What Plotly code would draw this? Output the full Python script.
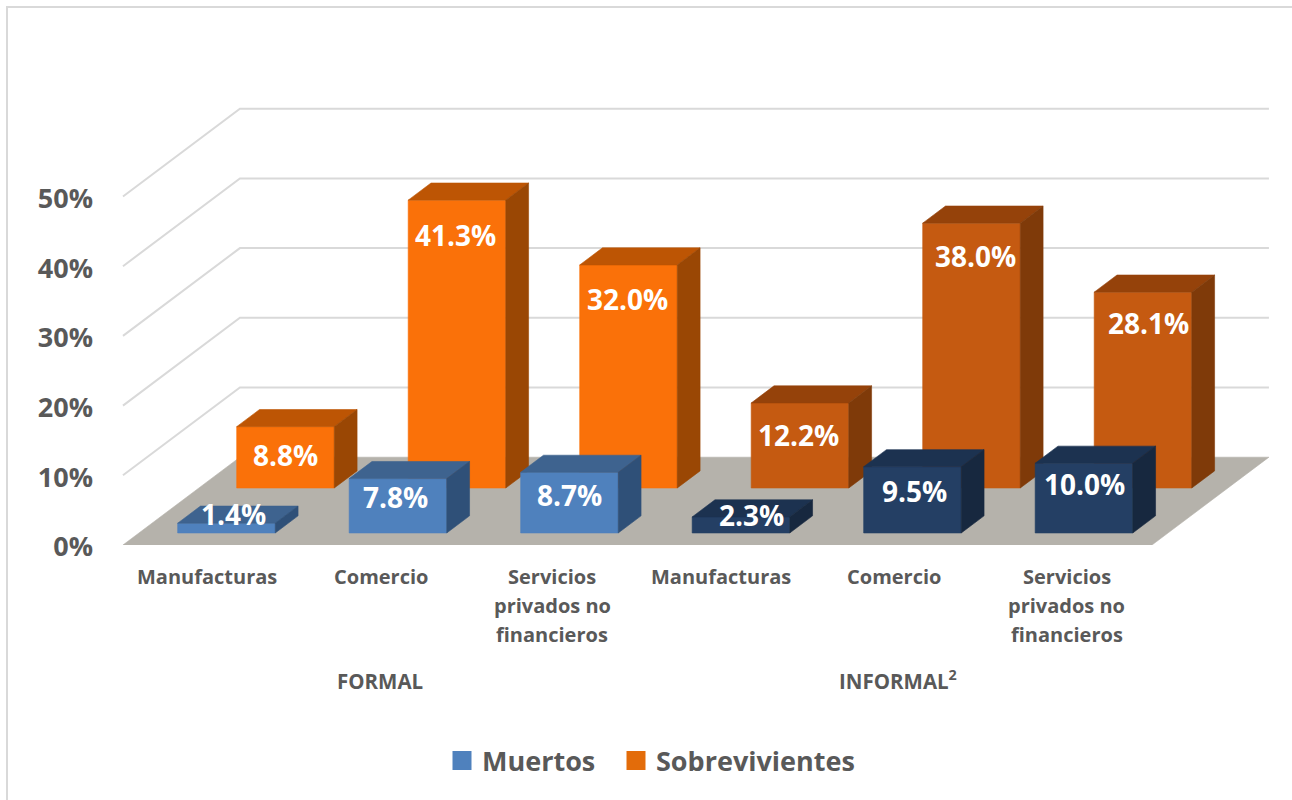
import plotly.graph_objects as go

categories = ["Manufacturas", "Comercio", "Servicios<br>privados no<br>financieros"] * 2
groups = ["FORMAL", "INFORMAL<sup>2</sup>"]
muertos = [1.4, 7.8, 8.7, 2.3, 9.5, 10.0]
sobrevivientes = [8.8, 41.3, 32.0, 12.2, 38.0, 28.1]
y_ticks = [0, 10, 20, 30, 40, 50]
y_tick_labels = ["0%", "10%", "20%", "30%", "40%", "50%"]

# colours: (front, top, side)
C_BLUE = ("#4F81BD", "#3E638F", "#2F5078")
C_NAVY = ("#243F64", "#1C3250", "#17283F")
C_ORANGE = ("#FA7109", "#BD5504", "#9A4704")
C_DKOR = ("#C55A11", "#95420A", "#7F3A09")
GRID = "#D9D9D9"
FLOOR = "#B5B2AB"
TEXT = "#595959"
FONT = "Open Sans"

# oblique projection
W, H = 1292, 800
ML, MB = 100, 255
PX_X = 171.5   # px per category
PX_Y = 6.97    # px per percent
X0_PX = 207    # px of category 0
DX, DY = 0.682, 12.6   # full depth in data units
FL, FR = -0.49, 5.51   # floor extent in front
BAR_W = 0.569
BAR_D = 0.195


def proj(x, y, d):
    return x + DX * d, y + DY * d


def poly(pts, color):
    return go.Scatter(x=[p[0] for p in pts] + [pts[0][0]], y=[p[1] for p in pts] + [pts[0][1]],
                      mode="lines", fill="toself", fillcolor=color, line=dict(color=color, width=0.6),
                      hoverinfo="skip", showlegend=False)


fig = go.Figure()

# walls' gridlines
for t in y_ticks[1:]:
    a = proj(FL, t, 0); b = proj(FL, t, 1); c = proj(FR, t, 1)
    fig.add_trace(go.Scatter(x=[a[0], b[0], c[0]], y=[a[1], b[1], c[1]], mode="lines",
                             line=dict(color=GRID, width=2), hoverinfo="skip", showlegend=False))
# floor
fig.add_trace(poly([proj(FL, 0, 0), proj(FR, 0, 0), proj(FR, 0, 1), proj(FL, 0, 1)], FLOOR))


def bar(i, value, d0, shift, cols):
    cx = i + shift
    xl, xr = cx - BAR_W / 2, cx + BAR_W / 2
    d1 = d0 + BAR_D
    fig.add_trace(poly([proj(xl, 0, d0), proj(xr, 0, d0), proj(xr, value, d0), proj(xl, value, d0)], cols[0]))
    fig.add_trace(poly([proj(xl, value, d0), proj(xr, value, d0), proj(xr, value, d1), proj(xl, value, d1)], cols[1]))
    fig.add_trace(poly([proj(xr, 0, d0), proj(xr, 0, d1), proj(xr, value, d1), proj(xr, value, d0)], cols[2]))
    return proj(cx, value, d0)


annos = []
lab_font = dict(family=FONT, size=28, color="white", weight="bold")
# nudges of each data label, px from the top-centre of the bar front
orange_dx = [0, -1, -1, -1, 4, 6]
orange_dy = [-28, -35, -34, -32, -33, -31]
blue_dx = [7, -2, 0, 11, 2, 1]
blue_dy = [9, -18, -23, 2, -24, -21]

for i, v in enumerate(sobrevivientes):
    x, y = bar(i, v, 0.649, 0.015, C_ORANGE if i < 3 else C_DKOR)
    annos.append(dict(x=x, y=y, text=f"{v:.1f}%", showarrow=False, font=lab_font,
                      xshift=orange_dx[i], yshift=orange_dy[i]))
for i, v in enumerate(muertos):
    x, y = bar(i, v, 0.137, 0.02, C_BLUE if i < 3 else C_NAVY)
    annos.append(dict(x=x, y=y, text=f"{v:.1f}%", showarrow=False, font=lab_font,
                      xshift=blue_dx[i], yshift=blue_dy[i]))

# category labels, one annotation per line for the reference's line spacing
cat_dx = [0, 2, 2, -1, 1, 2]
for i, c in enumerate(categories):
    for j, line in enumerate(c.split("<br>")):
        annos.append(dict(x=i, y=0, yref="paper", text=line, showarrow=False,
                          xshift=cat_dx[i], yshift=-47 - 29 * j,
                          font=dict(family=FONT, size=20, color=TEXT, weight="bold")))

# group labels
for gx, g, dx in zip([1, 4], groups, [1.5, 5]):
    annos.append(dict(x=gx, y=0, yref="paper", text=g, showarrow=False, yshift=-152, xshift=dx,
                      font=dict(family=FONT, size=20.5, color=TEXT, weight="bold")))

# legend
for name, col, lg in [("Muertos", "#4F81BD", "legend"), ("Sobrevivientes", "#E36C0A", "legend2")]:
    fig.add_trace(go.Scatter(x=[None], y=[None], mode="markers", name=name, legend=lg,
                             marker=dict(symbol="square", size=16, color=col, line=dict(color=col, width=3))))

x_range = [(ML - X0_PX) / PX_X, (W - X0_PX) / PX_X]
y_range = [0, (H - MB) / PX_Y]
leg_font = dict(family=FONT, size=27, color=TEXT, weight="bold")


def leg(px):
    return dict(x=(px - ML) / (W - ML), y=(H - MB - 761) / (H - MB), yanchor="middle", xanchor="left",
                font=leg_font, bgcolor="rgba(0,0,0,0)", borderwidth=0)


fig.update_layout(
    width=W, height=H, margin=dict(l=ML, r=0, t=0, b=MB, autoexpand=False),
    paper_bgcolor="white", plot_bgcolor="white",
    xaxis=dict(range=x_range, tickmode="array", tickvals=list(range(6)), showticklabels=False,
               showgrid=False, zeroline=False, showline=False, ticks=""),
    yaxis=dict(range=y_range, tickmode="array", tickvals=y_ticks, ticktext=y_tick_labels,
               showgrid=False, zeroline=False, showline=False, ticks="", ticklabelstandoff=6, ticklabelshift=2,
               tickfont=dict(family=FONT, size=27, color=TEXT, weight="bold")),
    legend=leg(442),
    legend2=leg(616),
    annotations=annos,
    shapes=[dict(type="rect", xref="paper", yref="paper",
                 x0=(7 - ML) / (W - ML), x1=(1320 - ML) / (W - ML),
                 y0=(H - MB - 830) / (H - MB), y1=(H - MB - 7) / (H - MB),
                 line=dict(color=GRID, width=2), layer="below")],
)

fig.write_html("out.html", config=dict(displayModeBar=False), post_script="document.body.style.margin='0';")
